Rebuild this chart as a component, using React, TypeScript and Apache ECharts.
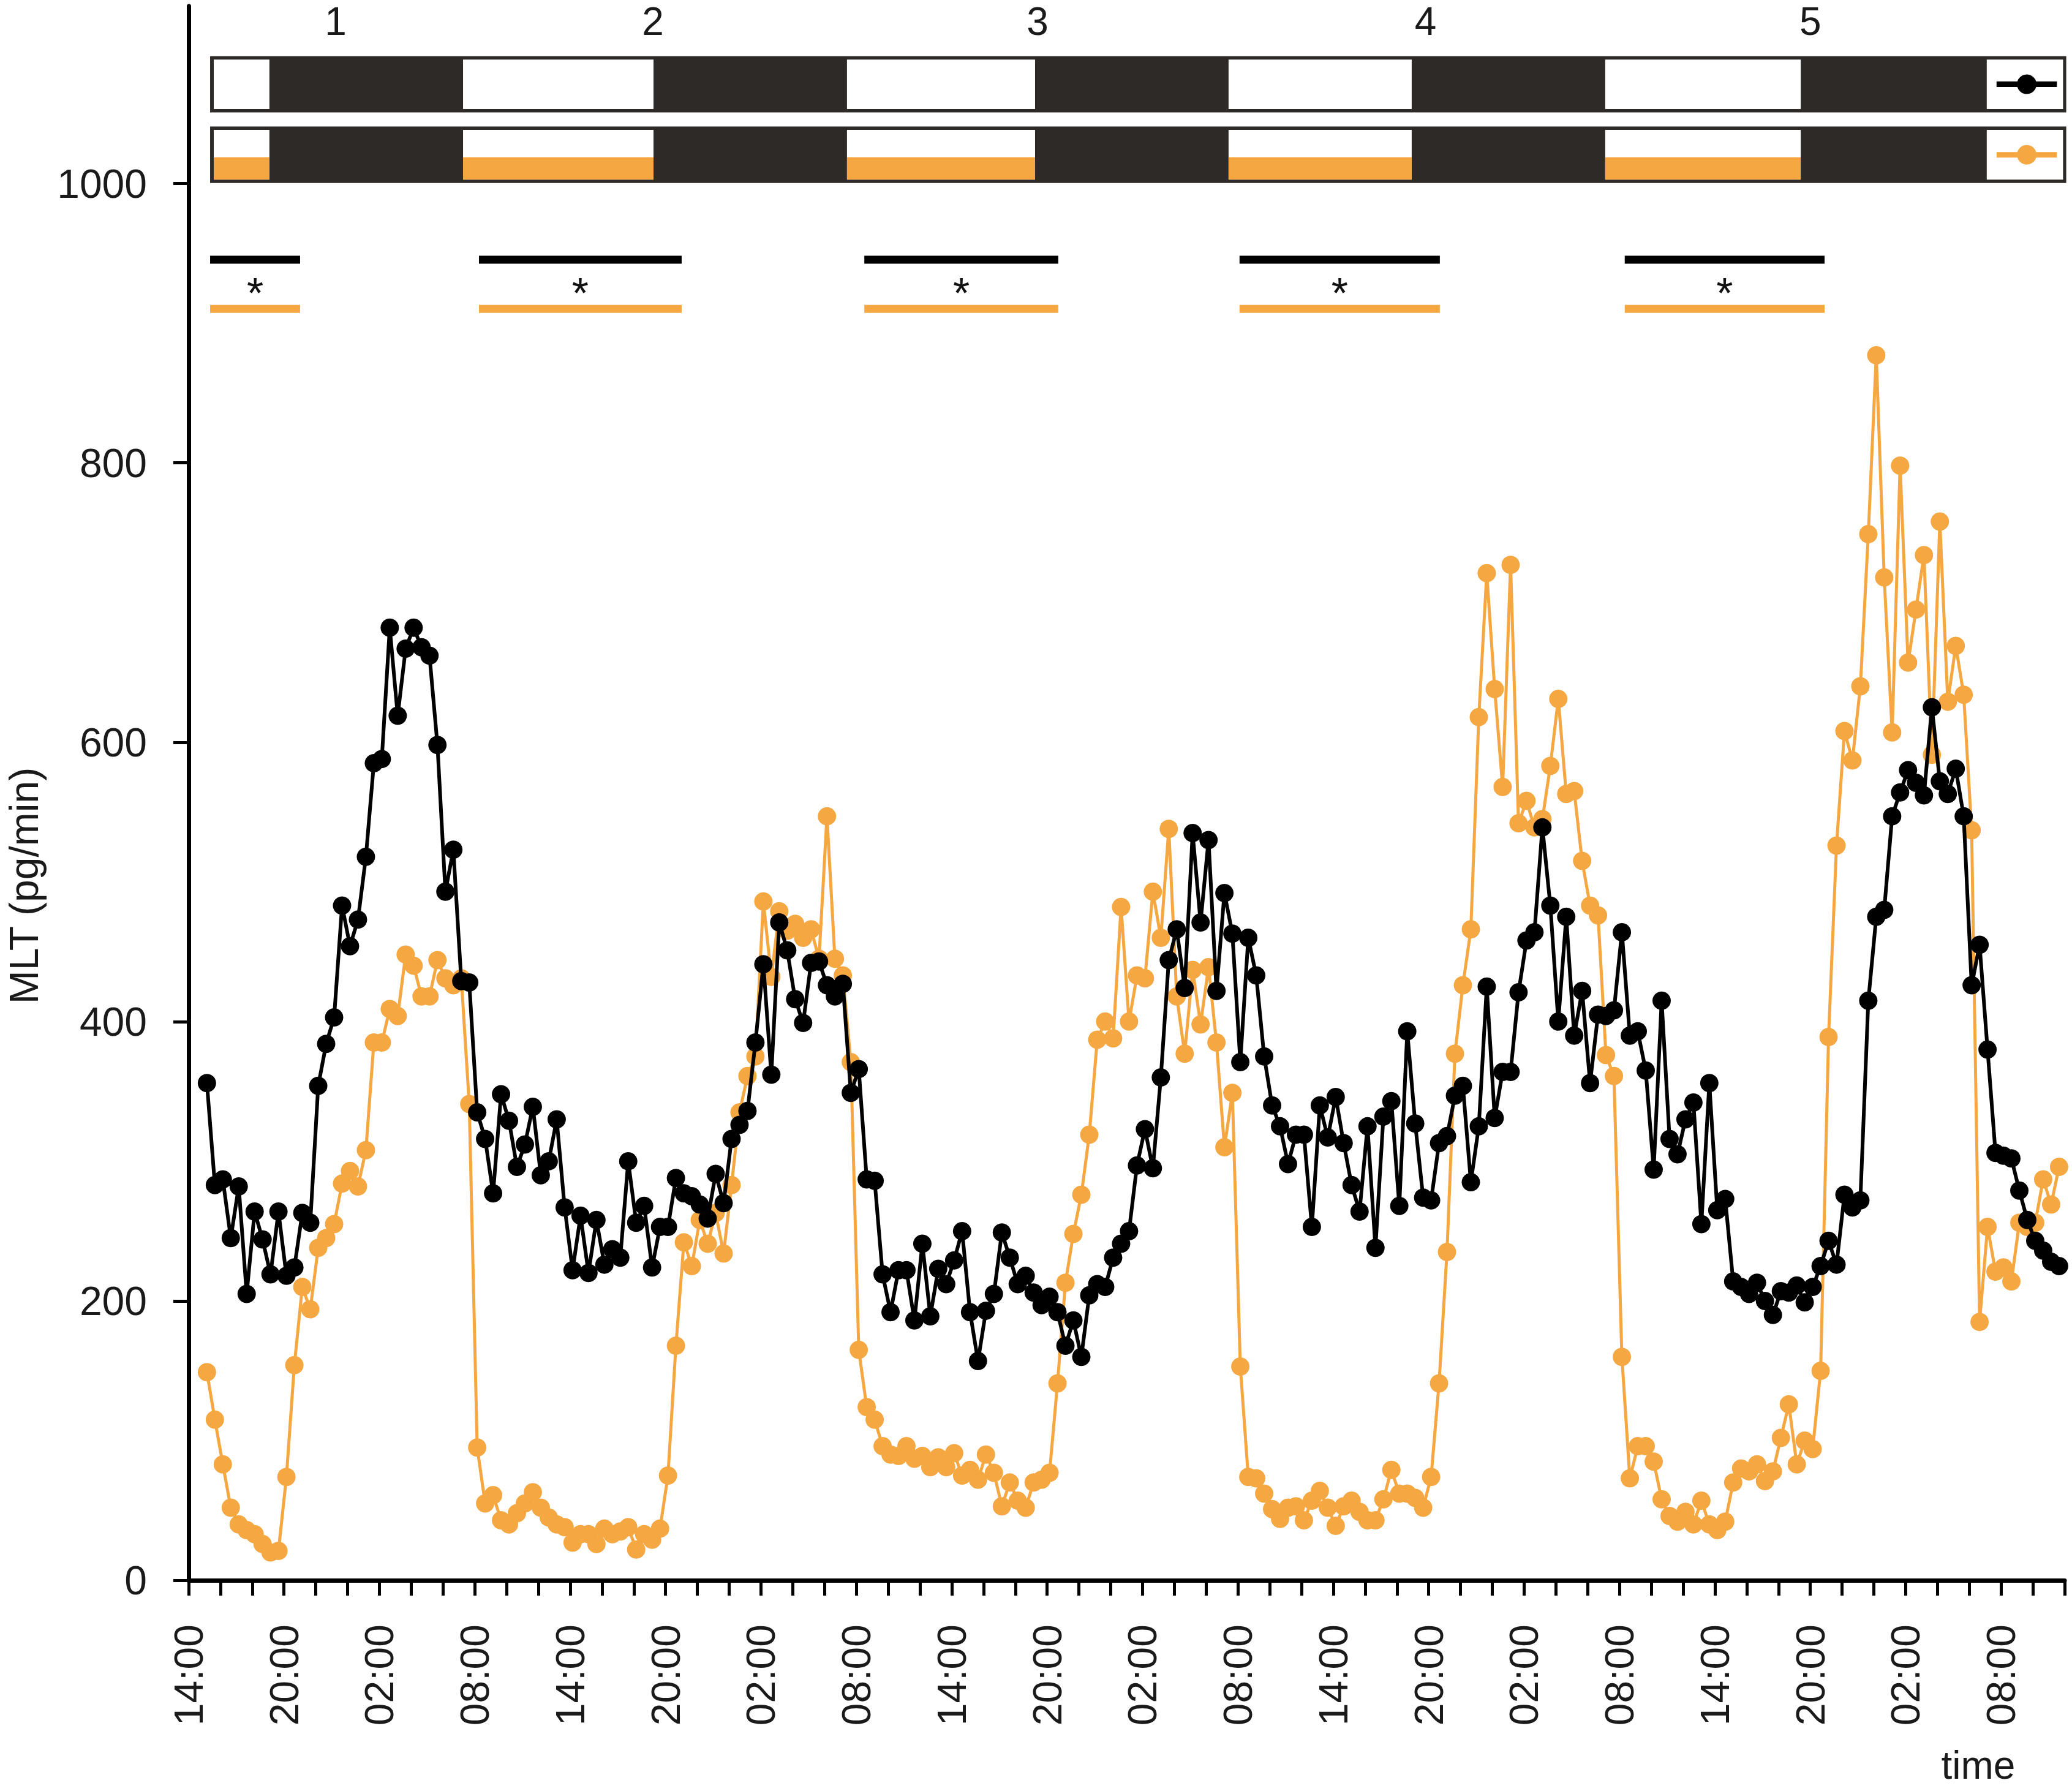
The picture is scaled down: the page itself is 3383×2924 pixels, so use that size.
import React, { useEffect, useRef } from "react";
import * as echarts from "echarts";

// ---------------- data ----------------
const START_HOUR = 1.15; // hours after 14:00 of day 1
const STEP_HOURS = 0.5; // 30-min sampling

const blackValues = [
  356, 283, 287, 245, 282, 205, 264, 244, 219, 264, 218, 224, 263, 256, 354, 384, 403,
  483, 454, 473, 518, 585, 588, 682, 619, 667, 682, 668, 662, 598, 493, 523, 429, 428,
  335, 316, 277, 348, 329, 296, 312, 339, 290, 300, 330, 267, 222, 261, 220, 258, 226, 237, 231, 300,
  256, 268, 224, 253, 253, 288, 277, 275, 269, 259, 291, 270, 316, 326, 336, 385, 441, 362, 471, 451,
  416, 399, 442,
  443, 426, 418, 427, 349, 366, 287, 286, 219, 192, 222, 222, 186, 241, 189, 223, 212, 229, 250, 192,
  157, 193, 205, 249, 231, 212, 218, 206, 197, 203, 192, 168, 186, 160, 204, 212, 210, 231, 241, 250,
  297, 323, 295, 360, 444, 466, 424, 535, 471, 530, 422, 492, 463, 371, 460, 433, 375, 340, 325, 298,
  319, 319, 253, 340, 317, 346, 313, 283, 264, 325, 238, 332, 343, 268, 393, 327, 274, 272, 313,
  318, 347, 354, 285, 325, 425, 331, 364, 364, 421, 458, 464, 539, 483, 400, 475, 390, 422, 356, 405,
  404, 408, 464, 390, 393, 365, 294, 415, 316, 305, 330, 342, 255, 356, 265, 273, 214, 210, 205, 213,
  200, 190, 207, 206, 211, 199, 210, 225, 243, 226, 276, 267, 272, 415, 475, 480, 547, 564, 580, 571,
  562, 625, 572, 563, 581, 547, 426, 455, 380, 306, 304, 302, 279, 258, 243, 236, 228, 225,
];

const orangeValues = [
  149, 115, 83, 52, 40, 36, 33, 26, 20, 21, 74, 154, 210, 194, 238, 245, 255, 284, 293, 282, 308,
  385, 385, 409, 404, 448, 440, 418, 418, 444, 431, 426, 431, 341,
  95, 55, 61, 43, 40, 48, 55, 63, 52, 45, 40, 38, 27, 33, 33, 26, 37, 33, 35, 38,
  22, 33, 29, 37, 75, 168, 242, 225, 258, 241, 263, 234, 283, 335, 361, 375, 486, 432, 479, 465,
  470, 460, 466, 445, 547, 445, 433, 371, 165,
  124, 115, 96, 90, 89, 96, 87, 89, 81, 88, 81, 91, 75, 79, 72, 90, 77, 53, 70, 57,
  52, 70, 72, 77, 141, 213, 248, 276, 319, 387, 400, 388, 482, 400, 433, 431, 493, 460, 538, 418,
  377, 437, 398, 439, 385, 310, 349, 153, 74, 73, 62, 51, 44, 52, 53, 43, 57, 64, 52, 39,
  53, 57, 49, 43, 43, 58, 79, 62, 62, 59, 52, 74, 141,
  235, 377, 426, 466, 618, 721, 638, 568, 727, 542, 558, 539, 545, 583, 631, 563, 565, 515, 483, 476,
  376, 361, 160, 73, 96, 96, 85, 58, 46, 42, 49, 40, 57, 40, 36, 42, 70, 80, 78, 83,
  71, 78, 102, 126, 83, 100, 94, 150, 389, 526, 608, 587, 640, 749, 877, 718, 607, 798, 657, 695,
  734, 591, 758, 629, 669, 634, 537, 185, 253, 221, 224, 214, 256, 253, 256, 287, 269, 296,
];

const yTickValues = [0, 200, 400, 600, 800, 1000];
const xTickHours = [
  0, 2, 4, 6, 8, 10, 12, 14, 16, 18, 20, 22, 24, 26, 28, 30, 32, 34, 36, 38, 40, 42, 44, 46, 48, 50,
  52, 54, 56, 58, 60, 62, 64, 66, 68, 70, 72, 74, 76, 78, 80, 82, 84, 86, 88, 90, 92, 94, 96, 98,
  100, 102, 104, 106, 108, 110, 112, 114, 116, 118,
];
const xLabelHours = [0, 6, 12, 18, 24, 30, 36, 42, 48, 54, 60, 66, 72, 78, 84, 90, 96, 102, 108, 114];
const xLabelTexts = [
  "14:00", "20:00", "02:00", "08:00", "14:00", "20:00", "02:00", "08:00", "14:00", "20:00",
  "02:00", "08:00", "14:00", "20:00", "02:00", "08:00", "14:00", "20:00", "02:00", "08:00",
];

// photoperiod bars (hours on the x axis)
const barSpan = [1.35, 118.1];
const lightPeriods = [
  [1.58, 5.08],
  [17.26, 29.24],
  [41.41, 53.24],
  [65.41, 76.93],
  [89.1, 101.4],
];
const legendSpan = [113.1, 117.9];
// rows of the bar in MLT units: [bottom, top]
const barRows = [
  [1050.9, 1091.2],
  [1000.4, 1040.8],
];

// significance bars
const sigSegments = [
  [1.35, 7.01],
  [18.26, 31.01],
  [42.5, 54.7],
  [66.1, 78.7],
  [90.33, 102.9],
];
const sigBlackLevel = 945.4;
const sigOrangeLevel = 910.3;
const sigStarLevel = 927;

const dayLabels = ["1", "2", "3", "4", "5"];
const dayLabelHours = [9.25, 29.2, 53.4, 77.8, 102.0];
const dayLabelLevel = 1116;

// ---------------- styling ----------------
const FONT = "'Liberation Sans', Arial, Helvetica, sans-serif";
const BLACK = "#000000";
const ORANGE = "#F5A742";
const DARK = "#2E2A28";

export default function App() {
  const ref = useRef<HTMLDivElement | null>(null);

  useEffect(() => {
    if (!ref.current) return;
    const chart = echarts.init(ref.current, undefined, { renderer: "svg" });

    const blackData = blackValues.map((v, i) => [START_HOUR + STEP_HOURS * i, v]);
    const orangeData = orangeValues.map((v, i) => [START_HOUR + STEP_HOURS * i, v]);

    const rowPix = (api: any, row: number[]) => {
      const yTop = api.coord([0, row[1]])[1];
      const yBot = api.coord([0, row[0]])[1];
      return [yTop, yBot];
    };
    const INSET = 5.5;

    const option: any = {
      animation: false,
      backgroundColor: "#ffffff",
      grid: { left: 308, right: 12, top: 10, bottom: 344, containLabel: false },
      xAxis: {
        type: "value",
        min: 0,
        max: 118,
        interval: 2,
        splitLine: { show: false },
        axisLine: { show: true, lineStyle: { color: BLACK, width: 7 } },
        axisTick: {
          show: true,
          length: 25,
          lineStyle: { color: BLACK, width: 5 },
          customValues: xTickHours,
        },
        axisLabel: {
          customValues: xLabelHours,
          formatter: (v: number) => {
            const k = xLabelHours.indexOf(Math.round(v));
            return k >= 0 ? xLabelTexts[k] : "";
          },
          rotate: 90,
          margin: 72,
          fontSize: 66,
          fontFamily: FONT,
          color: "#1a1a1a",
        },
      },
      yAxis: {
        type: "value",
        min: 0,
        max: 1127,
        interval: 200,
        splitLine: { show: false },
        axisLine: { show: true, lineStyle: { color: BLACK, width: 7 } },
        axisTick: {
          show: true,
          length: 25,
          lineStyle: { color: BLACK, width: 5 },
          customValues: yTickValues,
        },
        axisLabel: {
          customValues: yTickValues,
          formatter: (v: number) => (yTickValues.indexOf(Math.round(v)) >= 0 ? String(Math.round(v)) : ""),
          margin: 68,
          fontSize: 66,
          fontFamily: FONT,
          color: "#1a1a1a",
        },
      },
      graphic: [
        {
          type: "text",
          x: 39,
          y: 1446,
          rotation: Math.PI / 2,
          style: {
            text: "MLT (pg/min)",
            fontSize: 66,
            fontFamily: FONT,
            fill: "#1a1a1a",
            align: "center",
            verticalAlign: "middle",
          },
        },
        {
          type: "text",
          x: 3230,
          y: 2882,
          style: {
            text: "time",
            fontSize: 64,
            fontFamily: FONT,
            fill: "#1a1a1a",
            align: "center",
            verticalAlign: "middle",
          },
        },
      ],
      series: [
        // dark background of the photoperiod bars
        {
          type: "custom",
          name: "dark",
          coordinateSystem: "cartesian2d",
          clip: false,
          silent: true,
          z: 1,
          data: [barSpan],
          renderItem: (params: any, api: any) => {
            const x0 = api.coord([api.value(0), 0])[0];
            const x1 = api.coord([api.value(1), 0])[0];
            return {
              type: "group",
              children: barRows.map((r) => {
                const [yT, yB] = rowPix(api, r);
                return {
                  type: "rect",
                  shape: { x: x0, y: yT, width: x1 - x0, height: yB - yT },
                  style: { fill: DARK },
                };
              }),
            };
          },
        },
        // light phases
        {
          type: "custom",
          name: "light",
          coordinateSystem: "cartesian2d",
          clip: false,
          silent: true,
          z: 2,
          data: lightPeriods,
          renderItem: (params: any, api: any) => {
            const x0 = api.coord([api.value(0), 0])[0];
            const x1 = api.coord([api.value(1), 0])[0];
            const children: any[] = [];
            barRows.forEach((r, ri) => {
              const [yT, yB] = rowPix(api, r);
              const top = yT + INSET;
              const bot = yB - INSET;
              children.push({
                type: "rect",
                shape: { x: x0, y: top, width: x1 - x0, height: bot - top },
                style: { fill: "#ffffff" },
              });
              if (ri === 1) {
                const oh = (bot - top) * 0.45;
                children.push({
                  type: "rect",
                  shape: { x: x0, y: bot - oh, width: x1 - x0, height: oh },
                  style: { fill: ORANGE },
                });
              }
            });
            return { type: "group", children };
          },
        },
        // legend boxes inside the bars
        {
          type: "custom",
          name: "legendBoxes",
          coordinateSystem: "cartesian2d",
          clip: false,
          silent: true,
          z: 3,
          data: [legendSpan],
          renderItem: (params: any, api: any) => {
            const x0 = api.coord([api.value(0), 0])[0];
            const x1 = api.coord([api.value(1), 0])[0];
            const children: any[] = [];
            barRows.forEach((r, ri) => {
              const [yT, yB] = rowPix(api, r);
              const top = yT + INSET;
              const bot = yB - INSET;
              const color = ri === 0 ? BLACK : ORANGE;
              const cy = (top + bot) / 2;
              const cx = (x0 + x1) / 2;
              children.push({
                type: "rect",
                shape: { x: x0, y: top, width: x1 - x0, height: bot - top },
                style: { fill: "#ffffff" },
              });
              children.push({
                type: "line",
                shape: { x1: x0 + 16, y1: cy, x2: x1 - 10, y2: cy },
                style: { stroke: color, lineWidth: 9 },
              });
              children.push({
                type: "circle",
                shape: { cx: cx + 3, cy, r: 16 },
                style: { fill: color },
              });
            });
            return { type: "group", children };
          },
        },
        // significance bars with asterisks
        {
          type: "custom",
          name: "significance",
          coordinateSystem: "cartesian2d",
          clip: false,
          silent: true,
          z: 3,
          data: sigSegments,
          renderItem: (params: any, api: any) => {
            const a = api.value(0);
            const b = api.value(1);
            const x0 = api.coord([a, 0])[0];
            const x1 = api.coord([b, 0])[0];
            const yb = api.coord([0, sigBlackLevel])[1];
            const yo = api.coord([0, sigOrangeLevel])[1];
            const ys = api.coord([0, sigStarLevel])[1];
            return {
              type: "group",
              children: [
                { type: "rect", shape: { x: x0, y: yb - 6.5, width: x1 - x0, height: 13 }, style: { fill: BLACK } },
                { type: "rect", shape: { x: x0, y: yo - 6.5, width: x1 - x0, height: 13 }, style: { fill: ORANGE } },
                {
                  type: "text",
                  x: (x0 + x1) / 2,
                  y: ys + 13,
                  style: {
                    text: "*",
                    fontSize: 70,
                    fontFamily: FONT,
                    fill: "#111111",
                    align: "center",
                    verticalAlign: "middle",
                  },
                },
              ],
            };
          },
        },
        // day numbers
        {
          type: "custom",
          name: "days",
          coordinateSystem: "cartesian2d",
          clip: false,
          silent: true,
          z: 3,
          data: dayLabelHours.map((h) => [h, dayLabelLevel]),
          renderItem: (params: any, api: any) => {
            const p = api.coord([api.value(0), api.value(1)]);
            return {
              type: "text",
              x: p[0],
              y: p[1],
              style: {
                text: dayLabels[params.dataIndex],
                fontSize: 64,
                fontFamily: "'Liberation Sans Narrow', 'Liberation Sans', Arial, sans-serif",
                fill: "#1a1a1a",
                align: "center",
                verticalAlign: "middle",
              },
            };
          },
        },
        {
          type: "line",
          name: "orange",
          data: orangeData,
          z: 5,
          symbol: "circle",
          symbolSize: 30,
          showSymbol: true,
          lineStyle: { color: ORANGE, width: 5 },
          itemStyle: { color: ORANGE },
          emphasis: { disabled: true },
        },
        {
          type: "line",
          name: "black",
          data: blackData,
          z: 6,
          symbol: "circle",
          symbolSize: 30,
          showSymbol: true,
          lineStyle: { color: BLACK, width: 6 },
          itemStyle: { color: BLACK },
          emphasis: { disabled: true },
        },
      ],
    };

    chart.setOption(option);
    return () => {
      chart.dispose();
    };
  }, []);

  return (
    <div
      ref={ref}
      style={{ position: "absolute", left: 0, top: 0, width: 3383, height: 2924, background: "#ffffff" }}
    />
  );
}
